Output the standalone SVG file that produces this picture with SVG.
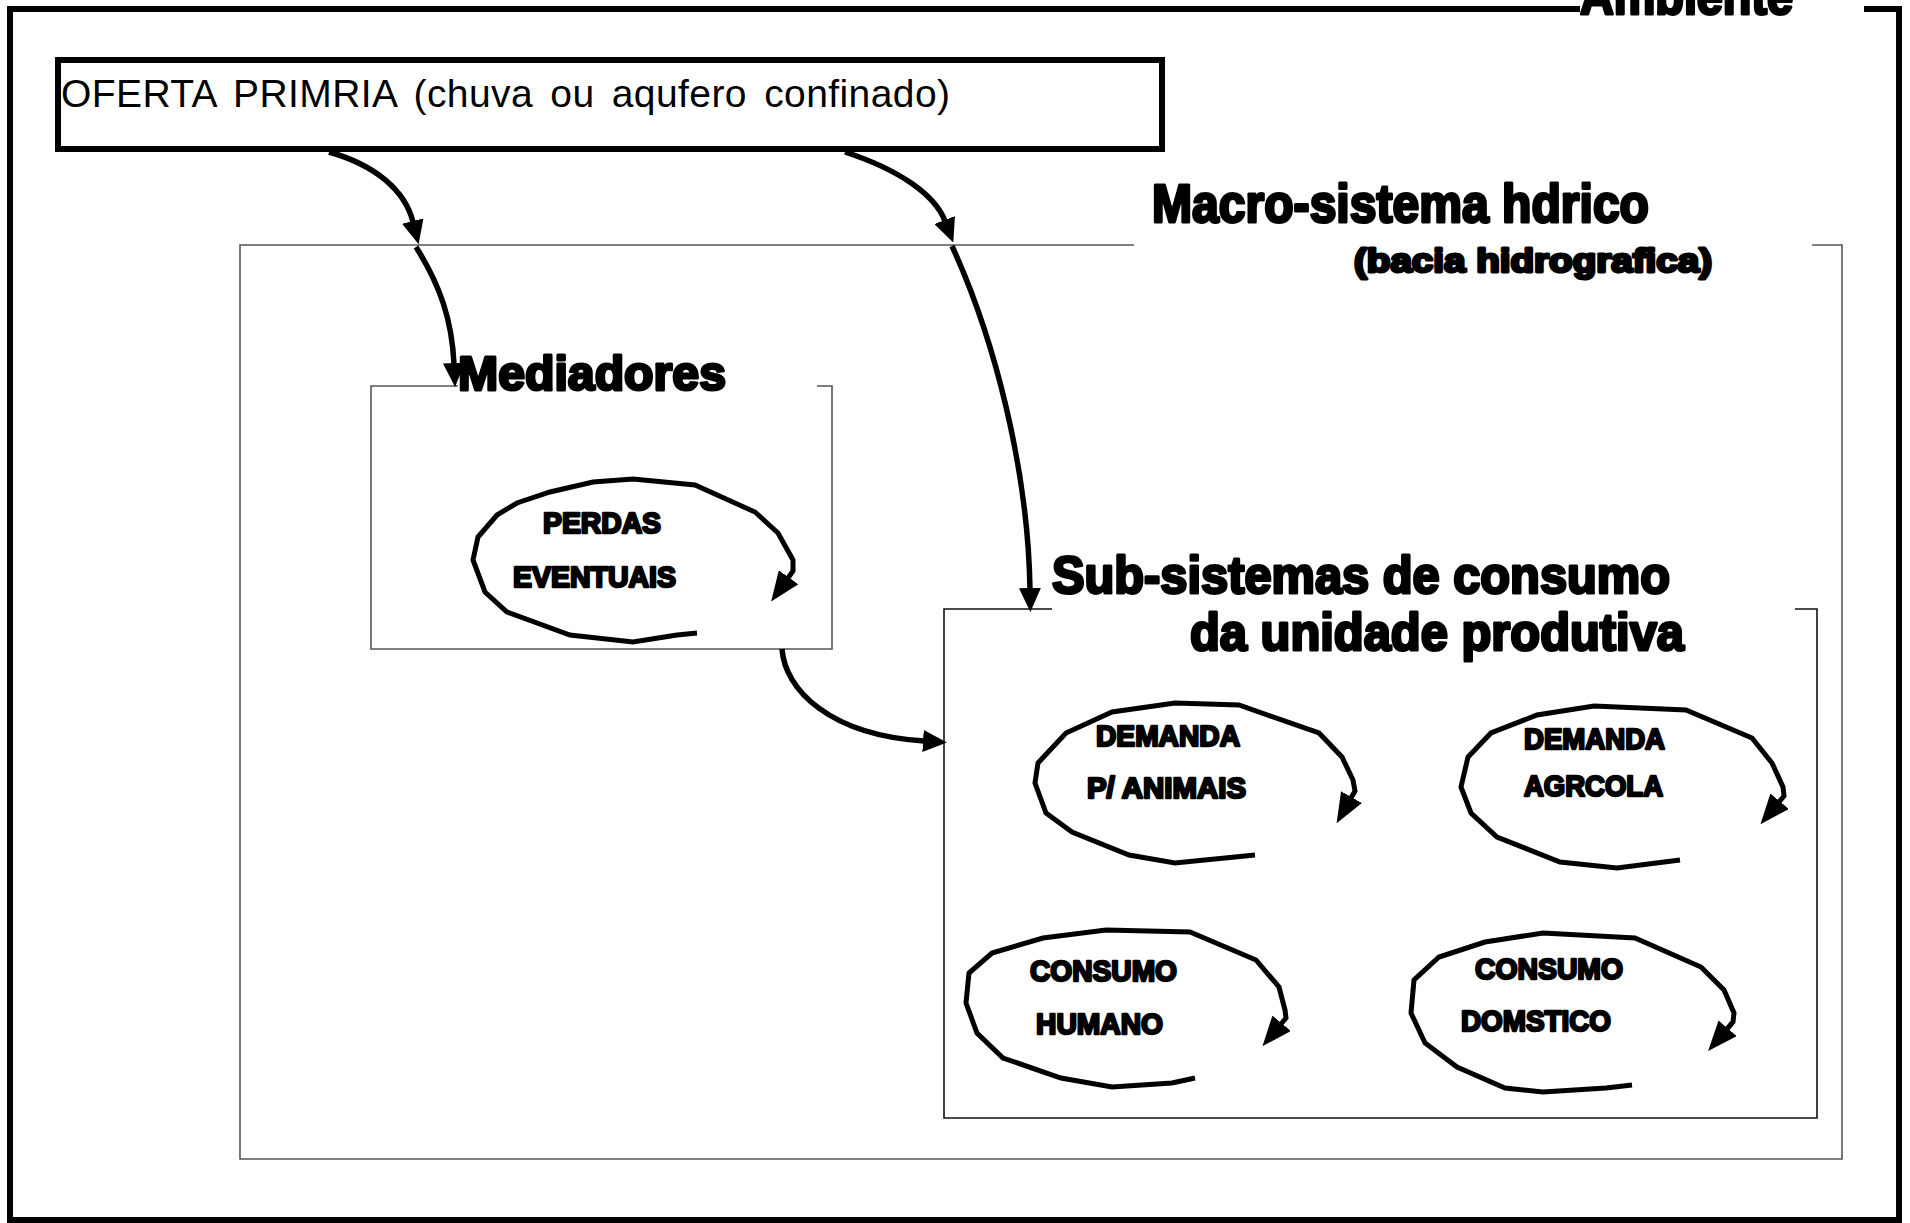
<svg xmlns="http://www.w3.org/2000/svg" width="1910" height="1223" viewBox="0 0 1910 1223">
  <defs>
    <style>
      .frame { fill: none; stroke: #000; stroke-width: 6; stroke-linejoin: miter; }
      .box { fill: none; stroke: #555; stroke-width: 1.6; }
      .box-dark { fill: none; stroke: #111; stroke-width: 1.6; }
      .flow { fill: none; stroke: #000; stroke-width: 5.5; stroke-linecap: butt; }
      .loop { fill: none; stroke: #000; stroke-width: 5; stroke-linejoin: miter; }
      .title { font-family: "Liberation Sans", Arial, sans-serif; font-weight: bold; fill: #000; stroke: #000; stroke-width: 3; stroke-linejoin: round; }
      .label { font-family: "Liberation Sans", Arial, sans-serif; font-weight: bold; font-size: 29px; fill: #000; stroke: #000; stroke-width: 2.4; stroke-linejoin: round; }
      .plain { font-family: "Liberation Sans", Arial, sans-serif; font-size: 39px; fill: #000; word-spacing: 6px; }
    </style>
    <marker id="head" markerUnits="userSpaceOnUse" viewBox="0 0 24 22" refX="1" refY="11" markerWidth="24" markerHeight="22" orient="auto">
      <path d="M0,0 L24,11 L0,22 z" fill="#000"/>
    </marker>
    <marker id="loophead" markerUnits="userSpaceOnUse" viewBox="0 0 30 24" refX="1" refY="12" markerWidth="30" markerHeight="24" orient="auto">
      <path d="M0,0 L30,12 L0,24 z" fill="#000"/>
    </marker>
  </defs>

  <rect width="1910" height="1223" fill="#fff"/>

  <!-- Environment frame -->
  <g id="ambiente">
    <path class="frame" d="M1580,9 H10 V1220 H1899 V9 H1864"/>
    <text class="title" x="1580" y="14" font-size="52" textLength="213" lengthAdjust="spacingAndGlyphs">Ambiente</text>
  </g>

  <!-- Primary supply -->
  <g id="oferta">
    <rect x="58" y="60" width="1104" height="89" fill="#fff" stroke="#000" stroke-width="6"/>
    <text class="plain" x="61" y="107" textLength="889" lengthAdjust="spacing">OFERTA PRIMRIA (chuva ou aqufero confinado)</text>
  </g>

  <!-- Watershed macro-system -->
  <g id="macro-sistema">
    <path class="box" d="M1134,245 H240 V1159 H1842 V245 H1812"/>
    <text class="title" x="1152" y="222" font-size="53" textLength="497" lengthAdjust="spacingAndGlyphs">Macro-sistema hdrico</text>
    <text class="title" x="1354" y="272" font-size="34" textLength="358" lengthAdjust="spacingAndGlyphs" stroke-width="2.4">(bacia hidrografica)</text>
  </g>

  <!-- Mediators -->
  <g id="mediadores">
    <path class="box" d="M458,386 H371 V649 H832 V386 H817"/>
    <text class="title" x="458" y="390" font-size="49" textLength="268" lengthAdjust="spacingAndGlyphs">Mediadores</text>
  </g>

  <g id="perdas">
    <polyline class="loop" marker-end="url(#loophead)" points="697,633 677,635 633,642 570,635 507,612 485,592 473,560 478,537 497,515 517,503 550,492 593,482 633,479 695,485 755,512 778,533 793,560 793,571 788,578"/>
    <text class="label" x="543" y="533" textLength="118" lengthAdjust="spacingAndGlyphs">PERDAS</text>
    <text class="label" x="513" y="587" textLength="163" lengthAdjust="spacingAndGlyphs">EVENTUAIS</text>
  </g>

  <!-- Consumption sub-systems of the farm -->
  <g id="sub-sistemas">
    <path class="box-dark" d="M1052,609 H944 V1118 H1817 V609 H1795"/>
    <text class="title" x="1052" y="593" font-size="52" textLength="618" lengthAdjust="spacingAndGlyphs">Sub-sistemas de consumo</text>
    <text class="title" x="1190" y="650" font-size="52" textLength="494" lengthAdjust="spacingAndGlyphs">da unidade produtiva</text>
  </g>

  <g id="demanda-animais">
    <polyline class="loop" marker-end="url(#loophead)" points="1255,855 1175,863 1129,855 1072,832 1046,813 1035,783 1038,763 1066,733 1112,712 1175,703 1239,705 1319,733 1342,757 1353,780 1355,791 1351,798"/>
    <text class="label" x="1096" y="746" textLength="144" lengthAdjust="spacingAndGlyphs">DEMANDA</text>
    <text class="label" x="1087" y="798" textLength="159" lengthAdjust="spacingAndGlyphs">P/ ANIMAIS</text>
  </g>

  <g id="demanda-agricola">
    <polyline class="loop" marker-end="url(#loophead)" points="1680,860 1617,868 1560,862 1497,837 1471,813 1461,787 1468,757 1491,733 1537,715 1594,706 1686,710 1752,738 1772,763 1783,787 1784,796 1779,802"/>
    <text class="label" x="1524" y="749" textLength="141" lengthAdjust="spacingAndGlyphs">DEMANDA</text>
    <text class="label" x="1524" y="796" textLength="139" lengthAdjust="spacingAndGlyphs">AGRCOLA</text>
  </g>

  <g id="consumo-humano">
    <polyline class="loop" marker-end="url(#loophead)" points="1195,1078 1172,1083 1112,1087 1061,1078 1003,1058 977,1033 966,1003 969,973 992,953 1043,938 1106,930 1190,932 1256,960 1279,987 1285,1010 1286,1018 1281,1024"/>
    <text class="label" x="1030" y="981" textLength="147" lengthAdjust="spacingAndGlyphs">CONSUMO</text>
    <text class="label" x="1036" y="1034" textLength="127" lengthAdjust="spacingAndGlyphs">HUMANO</text>
  </g>

  <g id="consumo-domestico">
    <polyline class="loop" marker-end="url(#loophead)" points="1632,1085 1606,1088 1543,1092 1505,1088 1457,1067 1425,1043 1411,1013 1414,980 1439,957 1485,942 1543,933 1635,938 1701,967 1724,990 1734,1013 1733,1022 1727,1029"/>
    <text class="label" x="1475" y="979" textLength="148" lengthAdjust="spacingAndGlyphs">CONSUMO</text>
    <text class="label" x="1461" y="1031" textLength="150" lengthAdjust="spacingAndGlyphs">DOMSTICO</text>
  </g>

  <!-- Water flows -->
  <g id="connectors">
    <path class="flow" marker-end="url(#head)" d="M329,152 C375,165 405,190 413,222"/>
    <path class="flow" marker-end="url(#head)" d="M416,247 C440,285 452,320 454,364"/>
    <path class="flow" marker-end="url(#head)" d="M845,152 C900,170 935,195 945,221"/>
    <path class="flow" marker-end="url(#head)" d="M952,246 C995,340 1028,470 1030,589"/>
    <path class="flow" marker-end="url(#head)" d="M782,649 C785,690 830,735 924,741"/>
  </g>
</svg>
